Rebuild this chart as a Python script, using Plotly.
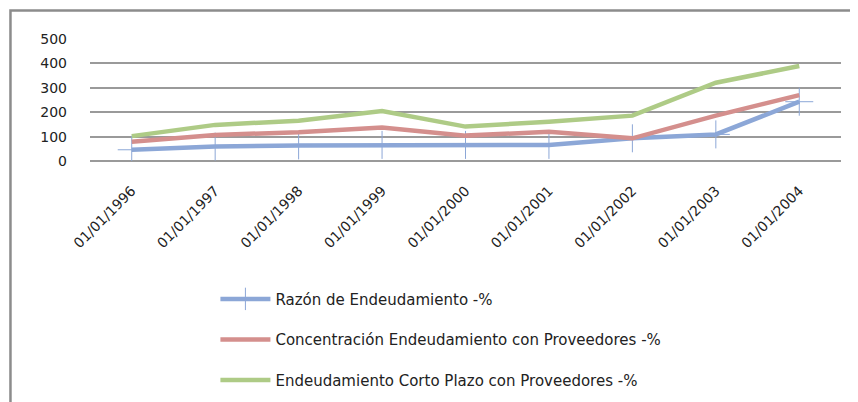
import plotly.graph_objects as go

categories = ["01/01/1996", "01/01/1997", "01/01/1998", "01/01/1999", "01/01/2000",
              "01/01/2001", "01/01/2002", "01/01/2003", "01/01/2004"]
razon = [46, 59, 64, 66, 66, 66, 93, 109, 243]
concentracion = [79, 107, 118, 137, 104, 120, 93, 186, 270]
corto_plazo = [102, 148, 165, 205, 141, 161, 186, 321, 389]
y_ticks = [0, 100, 200, 300, 400, 500]

names = ["Razón de Endeudamiento -%",
         "Concentración Endeudamiento con Proveedores -%",
         "Endeudamiento Corto Plazo con Proveedores -%"]
colors = ["#8ca7d7", "#d48f8d", "#aecb86"]

FONT = "DejaVu Sans"

fig = go.Figure()
fig.add_trace(go.Scatter(x=categories, y=razon, name=names[0], mode="lines+markers",
                         line=dict(color=colors[0], width=4.5),
                         marker=dict(symbol="cross-thin-open", size=20,
                                     line=dict(color=colors[0], width=1)),
                         legendgroup="a"))
fig.add_trace(go.Scatter(x=categories, y=concentracion, name=names[1], mode="lines",
                         line=dict(color=colors[1], width=4.5), legendgroup="b"))
fig.add_trace(go.Scatter(x=categories, y=corto_plazo, name=names[2], mode="lines",
                         line=dict(color=colors[2], width=4.5), legendgroup="c"))

# outer frame (top and left borders)
fig.add_shape(type="path", xref="paper", yref="paper",
              path="M -0.1059,-1.98 L -0.1059,1.2336 L 1.03,1.2336",
              line=dict(color="#8c8c8c", width=2.5))

fig.update_layout(
    width=850, height=394,
    margin=dict(l=82, r=17, t=31, b=241, autoexpand=False),
    paper_bgcolor="white", plot_bgcolor="white",
    font=dict(family=FONT, size=13, color="#222"),
    showlegend=True,
    legend=dict(x=0.167, y=-0.997, xanchor="left", yanchor="top",
                tracegroupgap=18, font=dict(family=FONT, size=15, color="#222"),
                itemwidth=50, bgcolor="rgba(0,0,0,0)"),
    xaxis=dict(type="category", range=[-0.5, 8.5], tickangle=-45, showgrid=False,
               showline=False, ticks="", tickfont=dict(size=14), ticklabelstandoff=18),
    yaxis=dict(range=[0, 500], tickvals=y_ticks, showgrid=True, gridcolor="#9a9a9a",
               gridwidth=1.5, zeroline=True, zerolinecolor="#9a9a9a", zerolinewidth=1.5,
               showline=False, ticks="", ticklabelstandoff=22, tickfont=dict(size=14)),
)

fig.write_html("out.html")
